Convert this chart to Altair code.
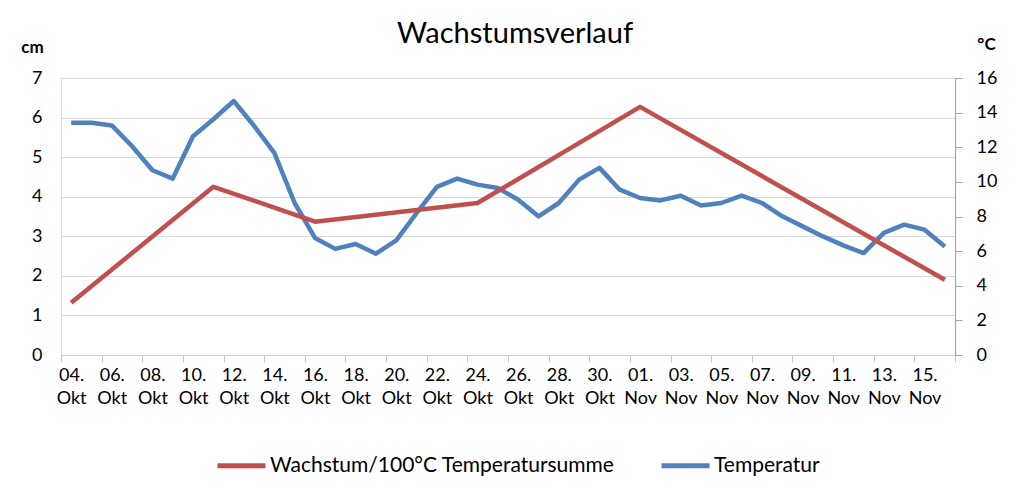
import json
import altair as alt
import pandas as pd

# ---- data ----
days = ["04.", "05.", "06.", "07.", "08.", "09.", "10.", "11.", "12.", "13.",
        "14.", "15.", "16.", "17.", "18.", "19.", "20.", "21.", "22.", "23.",
        "24.", "25.", "26.", "27.", "28.", "29.", "30.", "31.",
        "01.", "02.", "03.", "04.", "05.", "06.", "07.", "08.", "09.", "10.",
        "11.", "12.", "13.", "14.", "15.", "16."]
months = ["Okt"] * 28 + ["Nov"] * 16

temperature = [13.42, 13.42, 13.26, 12.06, 10.67, 10.19, 12.64, 13.62, 14.67, 13.24,
               11.68, 8.78, 6.76, 6.13, 6.41, 5.85, 6.62, 8.20, 9.71, 10.19,
               9.84, 9.65, 8.97, 8.01, 8.78, 10.13, 10.81, 9.55, 9.07, 8.93,
               9.20, 8.63, 8.78, 9.20, 8.78, 8.01, 7.43, 6.85, 6.33, 5.89,
               7.05, 7.53, 7.24, 6.27]

growth_dates = ["04. Okt", "11. Okt", "16. Okt", "24. Okt", "01. Nov", "16. Nov"]
growth_cm = [1.32, 4.25, 3.37, 3.84, 6.27, 1.90]

series_names = ["Wachstum/100°C Temperatursumme", "Temperatur"]
series_colors = ["#C0504D", "#4F81BD"]

title_text = "Wachstumsverlauf"
left_unit = "cm"
right_unit = "°C"

# ---- tables ----
labels = [f"{d} {m}" for d, m in zip(days, months)]
n = len(labels)
df_temp = pd.DataFrame({"idx": list(range(n)), "value": temperature,
                        "series": series_names[1]})
df_growth = pd.DataFrame({"idx": [labels.index(d) for d in growth_dates],
                          "value": growth_cm, "series": series_names[0]})

W, H = 894, 277
FONT = "Lato"
half = W / n / 2

x_scale = alt.Scale(domain=[-0.5, n - 0.5], nice=False, zero=False)
label_expr = (f"datum.value > {n - 1} ? '' : "
              f"[{json.dumps(days)}[round(datum.value + 0.5)], "
              f"{json.dumps(months)}[round(datum.value + 0.5)]]")
x_axis = alt.Axis(
    values=[-0.5 + 2 * k for k in range(n // 2 + 1)],
    labelExpr=label_expr, labelOffset=half, labelFlush=False, labelOverlap=False,
    labelAngle=0, labelAlign="center", labelBaseline="top",
    labelFont=FONT, labelFontSize=18, labelColor="black", labelLineHeight=23,
    labelPadding=4, ticks=True, tickSize=7, tickColor="#c8c8c8",
    domainColor="#d0d0d0", domainWidth=1.2, grid=False, title=None,
)

color = alt.Color(
    "series:N",
    scale=alt.Scale(domain=series_names, range=series_colors),
    legend=alt.Legend(
        orient="none", legendX=154, legendY=361, direction="horizontal",
        title=None, symbolType="stroke", symbolStrokeWidth=5, symbolSize=2304,
        labelFont=FONT, labelFontSize=21, labelColor="black", labelLimit=0,
        columnPadding=36, labelOffset=2,
    ),
)

red = alt.Chart(df_growth).mark_line(strokeWidth=4.5, strokeJoin="round").encode(
    x=alt.X("idx:Q", scale=x_scale, axis=x_axis),
    y=alt.Y("value:Q", scale=alt.Scale(domain=[0, 7], nice=False, zero=True),
            axis=alt.Axis(values=list(range(8)), orient="left", domain=False,
                          ticks=False, grid=True, gridColor="#d9d9d9", gridWidth=1.2,
                          labelFont=FONT, labelFontSize=18, labelColor="black",
                          labelPadding=19, title=left_unit, titleAngle=0,
                          titleX=-29, titleY=-31, titleAlign="center",
                          titleBaseline="middle", titleFont=FONT, titleFontSize=17,
                          titleFontWeight="bold", titleColor="black")),
    color=color,
    order="idx:Q",
)

blue = alt.Chart(df_temp).mark_line(strokeWidth=4.5, strokeJoin="round").encode(
    x=alt.X("idx:Q", scale=x_scale, axis=x_axis),
    y=alt.Y("value:Q", scale=alt.Scale(domain=[0, 16], nice=False, zero=True),
            axis=alt.Axis(values=list(range(0, 17, 2)), orient="right", domain=True,
                          domainColor="#a6a6a6", domainWidth=1.2, ticks=True,
                          tickSize=7, tickColor="#a6a6a6", grid=False,
                          labelFont=FONT, labelFontSize=18, labelColor="black",
                          labelPadding=14, title=right_unit, titleAngle=0,
                          titleX=31, titleY=-34, titleAlign="center",
                          titleBaseline="middle", titleFont=FONT, titleFontSize=17,
                          titleFontWeight="bold", titleColor="black")),
    color=color,
    order="idx:Q",
)

chart = alt.layer(blue, red).resolve_scale(y="independent").properties(
    width=W, height=H,
    title=alt.TitleParams(title_text, font=FONT, fontSize=29, fontWeight="normal",
                          color="black", anchor="middle", offset=6, dy=20, dx=7),
    padding={"left": 53, "top": 70, "right": 60, "bottom": 134},
    autosize=alt.AutoSizeParams(type="none"),
).configure_view(stroke=None).configure(background="white")

chart.save("out.html", embed_options={"renderer": "svg", "actions": False})
